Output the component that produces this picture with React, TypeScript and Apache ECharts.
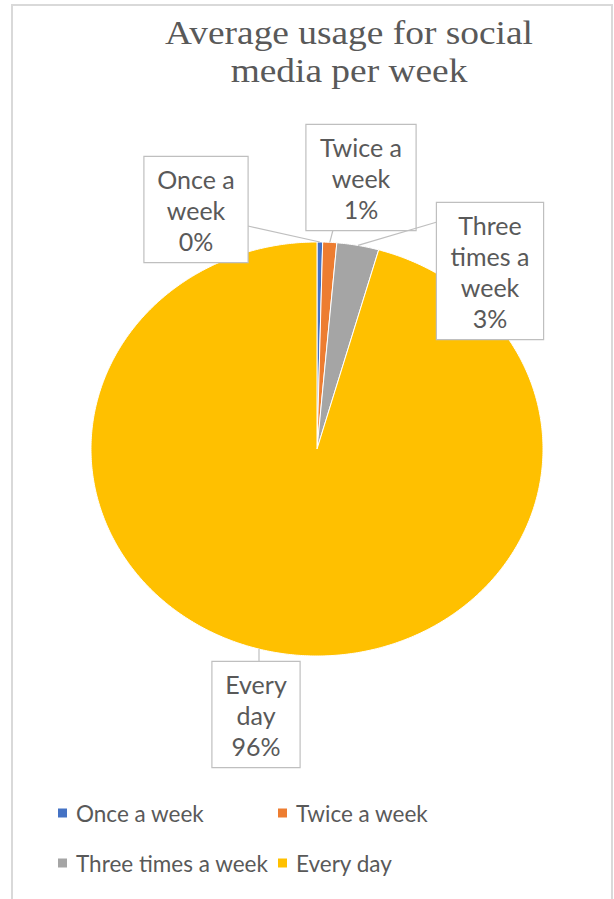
import React, { useEffect, useRef } from "react";
import * as echarts from "echarts";

const categories = ["Once a week", "Twice a week", "Three times a week", "Every day"];
const values = [0.4, 1.0, 3.0, 95.6];
const colors = ["#4472C4", "#ED7D31", "#A5A5A5", "#FFC000"];
const labelTextLines = [["Once a", "week"], ["Twice a", "week"], ["Three", "times a", "week"], ["Every", "day"]];
const titleLines = ["Average usage for social", "media per week"];

// layout
const CX = 317;
const CY = 449;
const RX = 226;
const RY = 207;
const labelBoxes = [
  { cx: 196, top: 157, w: 103, ax: 248, ay: 226, mode: "mid" },
  { cx: 361, top: 125, w: 109, ax: 333, ay: 230, mode: "mid" },
  { cx: 490, top: 203, w: 106, ax: 437, ay: 222, mode: "mid" },
  { cx: 256, top: 662, w: 87, ax: 259, ay: 662, mode: "vertical" },
];

const total = values.reduce((a, b) => a + b, 0);
function angleRange(i: number): [number, number] {
  let before = 0;
  for (let k = 0; k < i; k++) before += values[k];
  const a0 = (before / total) * Math.PI * 2;
  const a1 = ((before + values[i]) / total) * Math.PI * 2;
  return [a0, a1];
}
function ellipsePoint(a: number): [number, number] {
  return [CX + RX * Math.sin(a), CY - RY * Math.cos(a)];
}

export default function App() {
  const ref = useRef<HTMLDivElement>(null);
  useEffect(() => {
    if (!ref.current) return;
    const chart = echarts.init(ref.current, null, { renderer: "svg" });
    const sliceSeries = categories.map((name, i) => ({
      type: "custom",
      name,
      coordinateSystem: "none",
      itemStyle: { color: colors[i] },
      data: [values[i]],
      renderItem: (params: any, api: any) => {
        const [a0, a1] = angleRange(i);
        const pts: number[][] = [[CX, CY]];
        const n = Math.max(2, Math.ceil((a1 - a0) / (Math.PI / 360)));
        for (let k = 0; k <= n; k++) {
          pts.push(ellipsePoint(a0 + ((a1 - a0) * k) / n));
        }
        return {
          type: "polygon",
          shape: { points: pts },
          style: { fill: colors[i], stroke: "#ffffff", lineWidth: 1 },
        };
      },
    }));
    const labelSeries = {
      type: "custom",
      name: "labels",
      coordinateSystem: "none",
      z: 5,
      data: values.map((v, i) => i),
      renderItem: (params: any, api: any) => {
        const i = params.dataIndex;
        const b = labelBoxes[i];
        const [a0, a1] = angleRange(i);
        let target: [number, number];
        if (b.mode === "vertical") {
          const t = (b.ax - CX) / RX;
          target = [b.ax, CY + RY * Math.sqrt(1 - t * t)];
        } else {
          target = ellipsePoint((a0 + a1) / 2);
        }
        const pct = Math.round((values[i] / total) * 100) + "%";
        const text = [...labelTextLines[i], pct].join("\n");
        return {
          type: "group",
          children: [
            {
              type: "polyline",
              shape: { points: [[b.ax, b.ay], target] },
              style: { stroke: "#BFBFBF", lineWidth: 1.2, fill: null },
            },
            {
              type: "text",
              x: b.cx,
              y: b.top,
              style: {
                text,
                align: "center",
                verticalAlign: "top",
                font: '25px Lato',
                fill: "#595959",
                lineHeight: 31,
                width: b.w - 8,
                backgroundColor: "#ffffff",
                borderColor: "#BFBFBF",
                borderWidth: 1.2,
                padding: [6, 4, 6, 4],
              },
            },
          ],
        };
      },
    };
    const legendText = {
      fontFamily: "Lato",
      fontSize: 22.5,
      color: "#595959",
      lineHeight: 24,
      padding: [0, 0, 0, 4],
    };
    chart.setOption({
      animation: false,
      backgroundColor: "#ffffff",
      color: colors,
      legend: [
        {
          data: [categories[0], categories[2]],
          orient: "vertical",
          left: 58,
          top: 801,
          padding: 0,
          icon: "rect",
          itemWidth: 9,
          itemHeight: 9,
          itemGap: 26,
          textStyle: legendText,
        },
        {
          data: [categories[1], categories[3]],
          orient: "vertical",
          left: 278,
          top: 801,
          padding: 0,
          icon: "rect",
          itemWidth: 9,
          itemHeight: 9,
          itemGap: 26,
          textStyle: legendText,
        },
      ],
      graphic: [
        {
          type: "rect",
          z: -10,
          shape: { x: 12, y: 5, width: 600, height: 910 },
          style: { fill: "none", stroke: "#D9D9D9", lineWidth: 2 },
          silent: true,
        },
        {
          type: "text",
          x: 349,
          y: 14,
          scaleX: 1.1,
          style: {
            text: titleLines.join("\n"),
            font: '34px "Liberation Serif"',
            fill: "#595959",
            align: "center",
            verticalAlign: "top",
            lineHeight: 38,
          },
        },
      ],
      series: [...sliceSeries, labelSeries],
    });
    return () => chart.dispose();
  }, []);
  return (
    <div
      ref={ref}
      style={{ position: "absolute", left: 0, top: 0, width: 614, height: 899 }}
    />
  );
}
